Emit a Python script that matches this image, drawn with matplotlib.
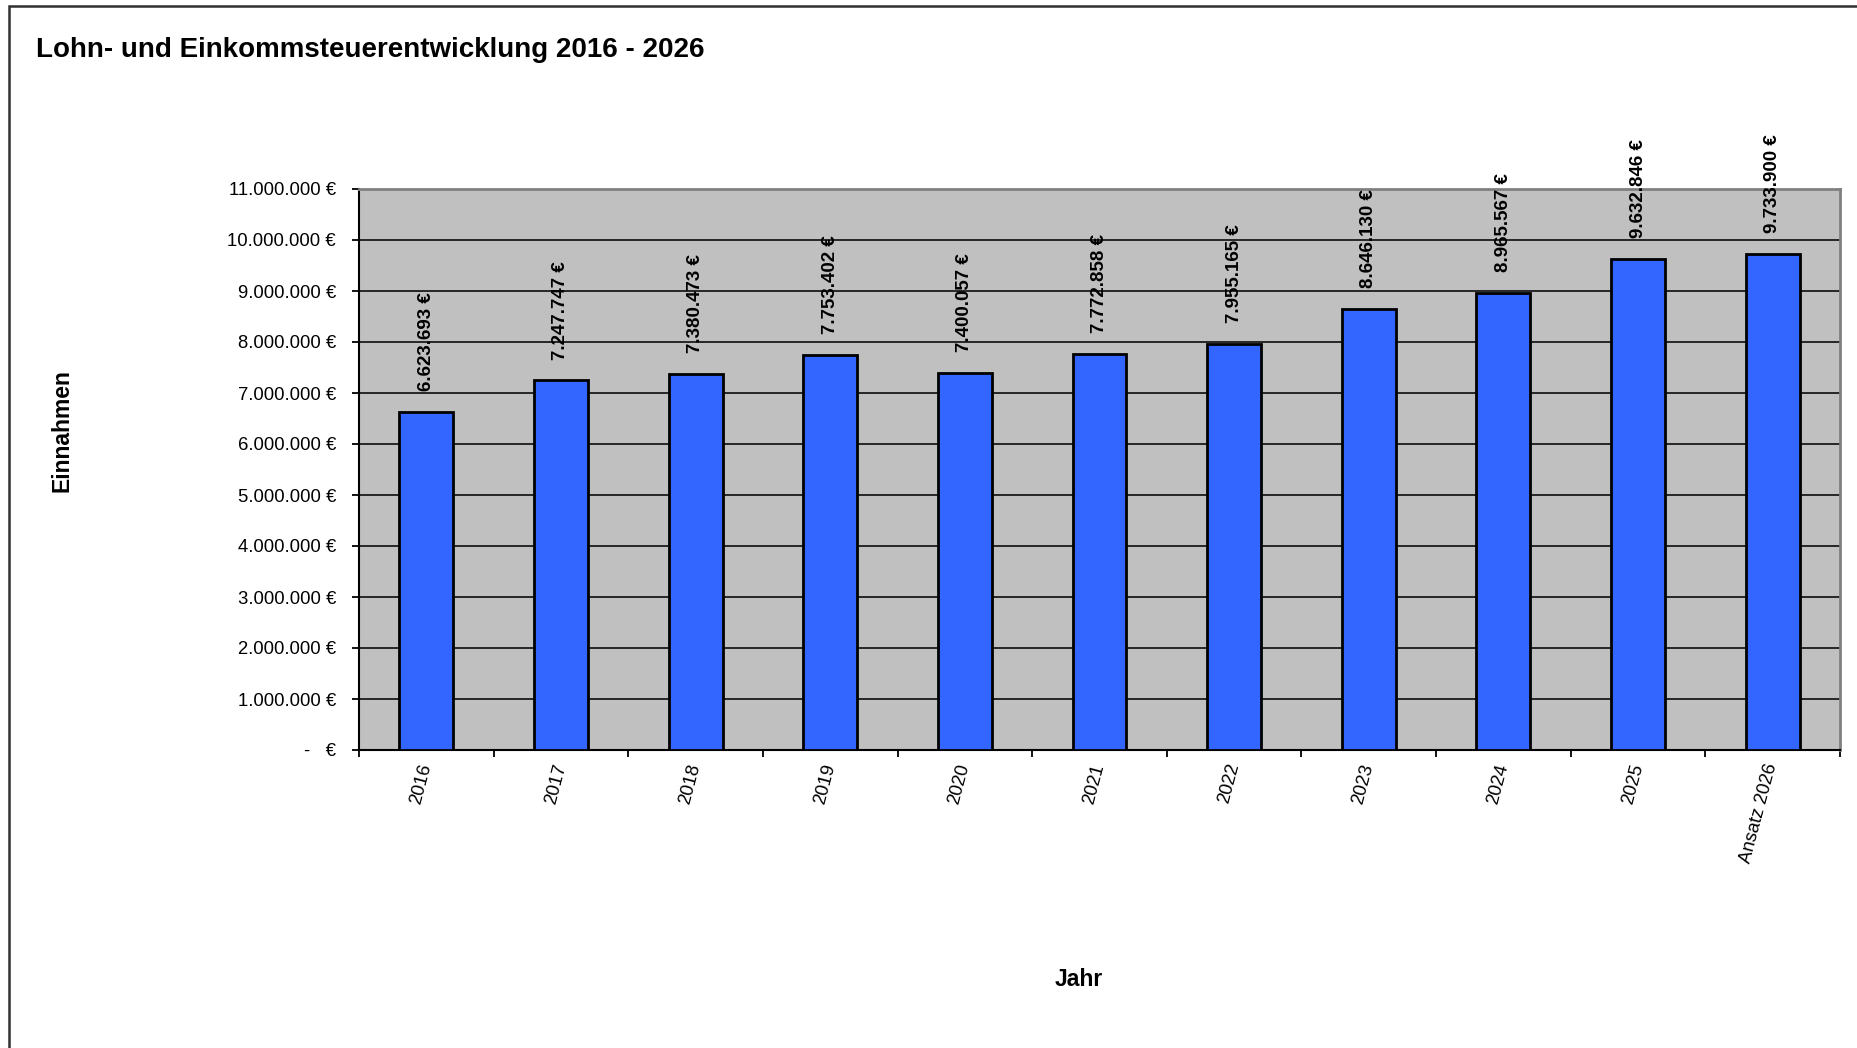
import matplotlib
matplotlib.use('Agg')
import matplotlib.pyplot as plt
from matplotlib.patches import Rectangle
from matplotlib.ticker import FuncFormatter, MultipleLocator

plt.rcParams['font.family'] = ['Liberation Sans', 'DejaVu Sans']

# Daten
jahre = ['2016', '2017', '2018', '2019', '2020', '2021', '2022', '2023', '2024', '2025', 'Ansatz 2026']
einnahmen = [6623693, 7247747, 7380473, 7753402, 7400057, 7772858, 7955165, 8646130, 8965567, 9632846, 9733900]


def euro(v):
    if v == 0:
        return '-   €'
    return f'{v:,.0f}'.replace(',', '.') + ' €'


W, H = 1858, 1048
fig = plt.figure(figsize=(W / 100, H / 100), dpi=100)

# Rahmen der Diagrammfläche (rechts/unten abgeschnitten)
fig.patches.append(Rectangle((9 / W, -0.1), 1.2, (H - 6) / H + 0.1, transform=fig.transFigure,
                             fill=False, edgecolor='#303030', linewidth=1.8))

ax = fig.add_axes([359 / W, (H - 750) / H, (1840 - 359) / W, (750 - 189) / H])
ax.set_facecolor('#C0C0C0')

x = list(range(len(jahre)))
ax.bar(x, einnahmen, width=0.4, color='#3366FF', edgecolor='black', linewidth=2, zorder=3)

for xi, v in zip(x, einnahmen):
    ax.annotate(euro(v), (xi, v), xytext=(0, 15), textcoords='offset points',
                rotation=90, ha='center', va='bottom', fontsize=13.5, fontweight='bold',
                clip_on=False, zorder=10, annotation_clip=False)

ax.set_xlim(-0.5, len(jahre) - 0.5)
ax.set_ylim(0, 11000000)
ax.yaxis.set_major_locator(MultipleLocator(1000000))
ax.yaxis.set_major_formatter(FuncFormatter(lambda v, p: euro(v)))
ax.grid(axis='y', color='#1a1a1a', linewidth=1.3, zorder=1)
ax.set_axisbelow(True)

# x-Ticks an den Kategoriegrenzen, Beschriftungen in der Mitte
ax.set_xticks([i - 0.5 for i in range(len(jahre) + 1)])
ax.set_xticklabels([])
ax.set_xticks(x, minor=True)
ax.set_xticklabels(jahre, minor=True, rotation=75, ha='right', va='center',
                   rotation_mode='anchor', fontsize=13.3)
ax.tick_params(axis='x', which='minor', length=0, pad=10)
ax.tick_params(axis='x', which='major', length=5, width=1.3, color='black')
ax.tick_params(axis='y', length=5, width=1.3, pad=11.5, labelsize=13.3)

for s in ['top', 'right']:
    ax.spines[s].set_color('#808080')
    ax.spines[s].set_linewidth(2)
for s in ['left', 'bottom']:
    ax.spines[s].set_color('black')
    ax.spines[s].set_linewidth(1.5)

fig.text(36 / W, 1 - 50 / H, 'Lohn- und Einkommsteuerentwicklung 2016 - 2026',
         fontsize=20, fontweight='bold', ha='left', va='center')
fig.text(62 / W, 1 - 431 / H, 'Einnahmen', rotation=90, fontsize=16.5,
         fontweight='bold', ha='center', va='center')
fig.text(1079 / W, 1 - 979 / H, 'Jahr', fontsize=16.5, fontweight='bold',
         ha='center', va='center')

fig.savefig('out.png', dpi=100)
